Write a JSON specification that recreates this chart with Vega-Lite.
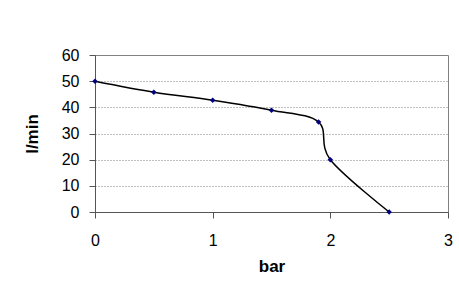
{
  "$schema": "https://vega.github.io/schema/vega-lite/v6.json",
  "autosize": {"type": "none"},
  "width": 353,
  "height": 157,
  "padding": {"left": 95, "top": 55, "right": 11, "bottom": 93},
  "background": "white",
  "config": {
    "view": {"stroke": "#808080", "strokeWidth": 1},
    "font": "Liberation Sans",
    "axis": {
      "labelFont": "Liberation Sans",
      "titleFont": "Liberation Sans",
      "labelFontSize": 16,
      "labelColor": "black",
      "titleFontSize": 17,
      "titleFontWeight": "bold",
      "titleColor": "black",
      "domainColor": "#555555",
      "tickColor": "#555555",
      "tickSize": 6
    }
  },
  "data": {
    "values": [
      {"bar": 0, "lmin": 50},
      {"bar": 0.5, "lmin": 45.8},
      {"bar": 1, "lmin": 42.7},
      {"bar": 1.5, "lmin": 38.9},
      {"bar": 1.9, "lmin": 34.4},
      {"bar": 2, "lmin": 20},
      {"bar": 2.5, "lmin": 0}
    ]
  },
  "encoding": {
    "x": {
      "field": "bar",
      "type": "quantitative",
      "scale": {"domain": [0, 3], "nice": false, "zero": false},
      "axis": {
        "title": "bar",
        "values": [0, 1, 2, 3],
        "format": "d",
        "grid": false,
        "labelPadding": 14,
        "titlePadding": 10,
        "labelFlush": false
      }
    },
    "y": {
      "field": "lmin",
      "type": "quantitative",
      "scale": {"domain": [0, 60], "nice": false},
      "axis": {
        "title": "l/min",
        "values": [0, 10, 20, 30, 40, 50, 60],
        "grid": true,
        "gridColor": "#808080",
        "gridDash": [1, 2],
        "gridWidth": 1,
        "labelPadding": 10,
        "titlePadding": 20
      }
    }
  },
  "layer": [
    {
      "mark": {"type": "line", "interpolate": "cardinal", "tension": 0, "color": "black", "strokeWidth": 1.5}
    },
    {
      "mark": {"type": "point", "shape": "diamond", "filled": true, "color": "#000080", "size": 30, "opacity": 1}
    }
  ]
}
